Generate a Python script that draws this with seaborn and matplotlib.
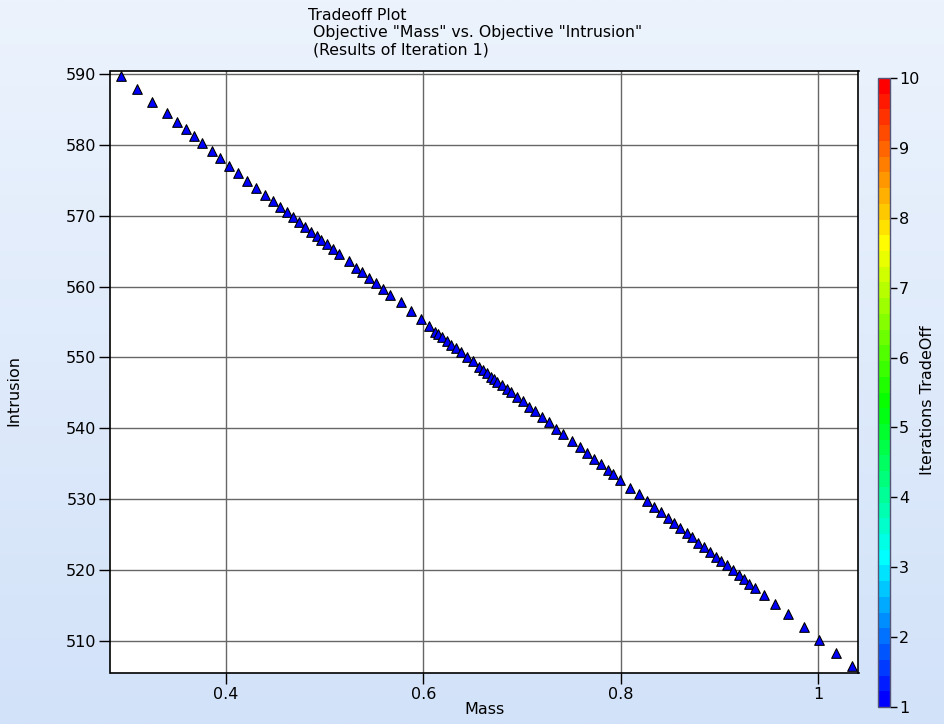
import numpy as np
import pandas as pd
import matplotlib
matplotlib.use("Agg")
import matplotlib.pyplot as plt
import seaborn as sns
from matplotlib.colors import LinearSegmentedColormap, Normalize
from matplotlib.cm import ScalarMappable

mass = [0.2938, 0.3099, 0.3254, 0.3403, 0.3511, 0.3598, 0.3679, 0.3760, 0.3858, 0.3942,
        0.4033, 0.4124, 0.4212, 0.4307, 0.4402, 0.4483, 0.4549, 0.4617, 0.4678, 0.4742,
        0.4802, 0.4863, 0.4924, 0.4968, 0.5025, 0.5086, 0.5150, 0.5245, 0.5322, 0.5383,
        0.5450, 0.5521, 0.5592, 0.5666, 0.5771, 0.5872, 0.5973, 0.6057, 0.6118, 0.6152,
        0.6189, 0.6243, 0.6280, 0.6327, 0.6385, 0.6442, 0.6499, 0.6563, 0.6603, 0.6641,
        0.6681, 0.6719, 0.6749, 0.6793, 0.6843, 0.6891, 0.6947, 0.7005, 0.7069, 0.7127,
        0.7200, 0.7268, 0.7346, 0.7410, 0.7504, 0.7589, 0.7656, 0.7731, 0.7802, 0.7865,
        0.7923, 0.7990, 0.8091, 0.8179, 0.8260, 0.8334, 0.8409, 0.8482, 0.8540, 0.8597,
        0.8665, 0.8715, 0.8779, 0.8844, 0.8900, 0.8958, 0.9012, 0.9072, 0.9137, 0.9191,
        0.9248, 0.9299, 0.9356, 0.9444, 0.9555, 0.9694, 0.9849, 1.0010, 1.0175, 1.0341]
intrusion = [589.76, 587.88, 586.05, 584.50, 583.23, 582.24, 581.25, 580.31, 579.18, 578.15,
             577.02, 576.03, 574.95, 573.92, 572.89, 572.04, 571.28, 570.53, 569.82, 569.12,
             568.45, 567.70, 567.14, 566.58, 566.01, 565.35, 564.60, 563.57, 562.63, 562.02,
             561.22, 560.47, 559.62, 558.82, 557.76, 556.53, 555.39, 554.44, 553.64, 553.27,
             552.85, 552.33, 551.81, 551.30, 550.74, 550.12, 549.46, 548.70, 548.24, 547.77,
             547.29, 547.01, 546.59, 546.08, 545.60, 545.09, 544.39, 543.82, 543.06, 542.45,
             541.65, 540.86, 539.95, 539.21, 538.26, 537.41, 536.57, 535.64, 534.93, 534.17,
             533.52, 532.72, 531.59, 530.70, 529.76, 528.87, 528.16, 527.36, 526.61, 525.99,
             525.28, 524.63, 523.87, 523.22, 522.52, 521.90, 521.29, 520.68, 520.02, 519.31,
             518.71, 518.09, 517.52, 516.53, 515.22, 513.77, 511.98, 510.14, 508.35, 506.47]
iteration = [1] * len(mass)

x_ticks = [0.4, 0.6, 0.8, 1.0]
x_ticklabels = ["0.4", "0.6", "0.8", "1"]
y_ticks = [510, 520, 530, 540, 550, 560, 570, 580, 590]
cbar_ticks = list(range(1, 11))

title_text = 'Tradeoff Plot\n Objective "Mass" vs. Objective "Intrusion"\n (Results of Iteration 1)'

sns.set_style("white")
plt.rcParams['font.family'] = ['DejaVu Sans']
plt.rcParams['text.color'] = 'black'
plt.rcParams['axes.labelcolor'] = 'black'
plt.rcParams['xtick.color'] = 'black'
plt.rcParams['ytick.color'] = 'black'

df = pd.DataFrame({"Mass": mass, "Intrusion": intrusion, "Iteration": iteration})

fig = plt.figure(figsize=(9.45, 7.24), dpi=100)

# gradient background
bg = fig.add_axes([0, 0, 1, 1], zorder=-10)
top = np.array([236, 243, 253]) / 255.0
bot = np.array([210, 226, 249]) / 255.0
t = np.linspace(0, 1, 256)[:, None]
grad = top[None, :] * (1 - t) + bot[None, :] * t
bg.imshow(grad[:, None, :], aspect="auto", extent=[0, 1, 0, 1])
bg.set_axis_off()

cmap = LinearSegmentedColormap.from_list(
    "rb", [(0.0, "#0000ff"), (0.23, "#00ffff"), (0.48, "#00ff00"),
           (0.74, "#ffff00"), (1.0, "#ff0000")], N=40)
norm = Normalize(1, 10)

ax = fig.add_axes([110.5 / 945, 1 - 673 / 724, (858.5 - 110.5) / 945, (673 - 71) / 724])
ax.set_facecolor("white")
sns.scatterplot(data=df, x="Mass", y="Intrusion", ax=ax, marker="^", s=48,
                color=cmap(norm(1)), edgecolor="black", linewidth=0.8,
                legend=False, zorder=3)

ax.set_xlim(0.2835, 1.0405)
ax.set_ylim(505.5, 590.4)
ax.set_xticks(x_ticks)
ax.set_xticklabels(x_ticklabels)
ax.set_yticks(y_ticks)
ax.grid(True, color="#666666", linewidth=1.0)
ax.set_axisbelow(True)
for sp in ax.spines.values():
    sp.set_color("black")
    sp.set_linewidth(1.2)
    sp.set_visible(True)
ax.tick_params(axis="both", direction="out", length=8, width=1, color="black",
               labelcolor="black", labelsize=11.5, pad=2, bottom=True, left=True)
ax.set_xlabel("Mass", fontsize=11.5, labelpad=0, color="black")
ax.set_ylabel("")
fig.text(14 / 945, 1 - 390 / 724, "Intrusion", rotation=90, fontsize=11.5,
         ha="center", va="center", color="black")

fig.text(308 / 945, 1 - 8 / 724, title_text, fontsize=11.3, ha="left", va="top",
         linespacing=1.2, color="black")

cax = fig.add_axes([878.5 / 945, 1 - 707 / 724, 12 / 945, (707 - 78) / 724])
sm = ScalarMappable(norm=norm, cmap=cmap)
cb = fig.colorbar(sm, cax=cax, ticks=cbar_ticks)
cb.outline.set_edgecolor("#555577")
cb.outline.set_linewidth(1)
cax.tick_params(labelsize=11.5, length=5, width=1, pad=1, color="black",
                labelcolor="black")
fig.text(928 / 945, 1 - 400 / 724, "Iterations TradeOff", rotation=90,
         fontsize=11.5, ha="center", va="center", color="black")

fig.savefig("out.png", dpi=100)
